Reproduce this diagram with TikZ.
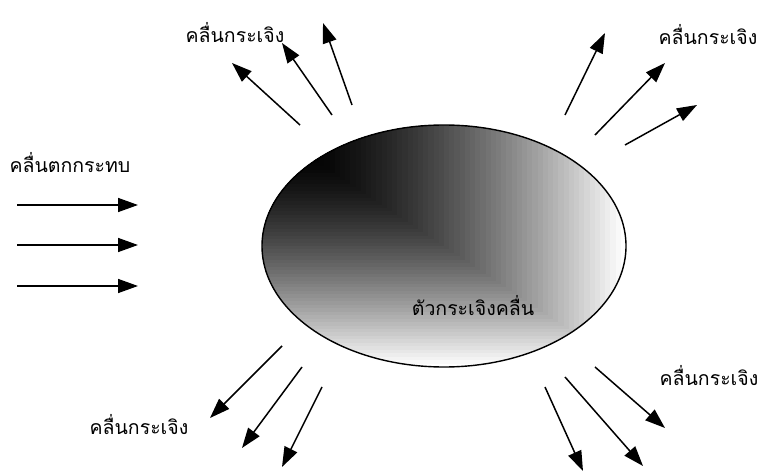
\documentclass[tikz,border=0pt]{standalone}
\usepackage{fontspec}
\newfontfamily\thaifont[Script=Thai]{Loma}
\usetikzlibrary{arrows.meta}
\begin{document}
\begin{tikzpicture}[x=1pt,y=-1pt,
  wave/.style={line width=1.5pt,-{Triangle[length=20pt,width=14pt]}},
  lbl/.style={font=\thaifont\fontsize{19.5}{22}\selectfont,inner sep=0pt}]
\useasboundingbox (0,0) rectangle (761,473);
% scatterer body with corner gradient
\begin{scope}
  \clip (444,246) ellipse [x radius=182pt, y radius=121pt];
  \foreach \i in {70,69,...,1}{
    \pgfmathsetmacro\t{\i/70}
    \pgfmathsetmacro\g{100*(max(0,(\t-0.1)/0.9)^1.5)}
    \fill[white!\g!black] (262,125) rectangle ({262+364*\t},{125+242*\t});
  }
\end{scope}
\draw[line width=1.4pt] (444,246) ellipse [x radius=182pt, y radius=121pt];
\node[lbl] (body) at (473,306) {ตัวกระเจิงคลื่น};
% labels
\node[lbl] (inc) at (70,163) {คลื่นตกกระทบ};
\node[lbl] (stl) at (235,33) {คลื่นกระเจิง};
\node[lbl] (str) at (708,35) {คลื่นกระเจิง};
\node[lbl] (sbl) at (139,425) {คลื่นกระเจิง};
\node[lbl] (sbr) at (709,376) {คลื่นกระเจิง};
% coordinates
\coordinate (i1a) at (17,205); \coordinate (i1b) at (138,205);
\coordinate (i2a) at (17,245); \coordinate (i2b) at (138,245);
\coordinate (i3a) at (17,286); \coordinate (i3b) at (138,286);
\coordinate (tl1a) at (300,125); \coordinate (tl1b) at (232,63);
\coordinate (tl2a) at (332,115); \coordinate (tl2b) at (282,43);
\coordinate (tl3a) at (352,105); \coordinate (tl3b) at (323,23);
\coordinate (tr1a) at (565,115); \coordinate (tr1b) at (605,33);
\coordinate (tr2a) at (595,135); \coordinate (tr2b) at (665,63);
\coordinate (tr3a) at (625,145); \coordinate (tr3b) at (697,105);
\coordinate (bl1a) at (282,346); \coordinate (bl1b) at (210,418);
\coordinate (bl2a) at (302,367); \coordinate (bl2b) at (242,448);
\coordinate (bl3a) at (322,387); \coordinate (bl3b) at (282,467);
\coordinate (br1a) at (545,387); \coordinate (br1b) at (583,471);
\coordinate (br2a) at (565,377); \coordinate (br2b) at (643,466);
\coordinate (br3a) at (595,367); \coordinate (br3b) at (665,428);
% arrows
\foreach \a in {i1,i2,i3,tl1,tl2,tl3,tr1,tr2,tr3,bl1,bl2,bl3,br1,br2,br3}{
  \draw[wave] (\a a) -- (\a b);
}
\end{tikzpicture}
\end{document}
